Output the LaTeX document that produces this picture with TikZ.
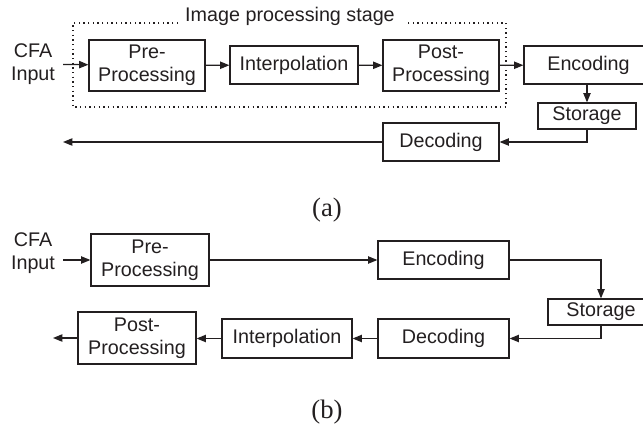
\documentclass[tikz,border=0pt]{standalone}
\usepackage{fontspec}
\setmainfont{Liberation Sans}
\newfontfamily\capfont{Liberation Serif}
\usepackage{tikz}
\usetikzlibrary{arrows.meta,positioning}

\definecolor{ink}{RGB}{35,31,32}

\begin{document}
\begin{tikzpicture}[x=0.75pt,y=0.75pt,yscale=-1,xscale=1,
  every node/.style={font=\fontsize{14.8}{17.5}\selectfont, text=ink},
  blockbox/.style={draw=ink, line width=0.9pt, align=center, inner sep=0pt},
  inlabel/.style={align=center, inner xsep=6pt, inner ysep=0pt},
  flow/.style={draw=ink, line width=0.9pt, -{Triangle[length=7pt,width=5.5pt]}},
  stageframe/.style={draw=ink, line width=0.9pt, dash pattern=on 0.9pt off 2.6pt},
  caption/.style={font=\capfont\fontsize{20}{24}\selectfont}]
\useasboundingbox (0,0) rectangle (643,425);
\clip (0,0) rectangle (643,425);

%Part (a)
%Input label
\node[inlabel] (cfaA) at (33,64) {CFA\\Input};
%Blocks
\node[blockbox, minimum width=87pt, minimum height=38.25pt] (preA) at (147,65.5) {Pre-\\Processing};
\node[blockbox, minimum width=96pt, minimum height=28.5pt] (interpA) at (294,65) {Interpolation};
\node[blockbox, minimum width=87pt, minimum height=38.25pt] (postA) at (441,65.5) {Post-\\Processing};
\node[blockbox, minimum width=96.75pt, minimum height=28.5pt] (encA) at (588.5,65) {Encoding};
\node[blockbox, minimum width=73.5pt, minimum height=19.5pt] (storA) at (587,116) {Storage};
\node[blockbox, minimum width=87pt, minimum height=28.5pt] (decA) at (441,142) {Decoding};
\coordinate (outA) at (63,142);
%Stage frame
\coordinate (frameA) at (178,23);
\coordinate (frameB) at (73,107);
\coordinate (frameC) at (506,23);
\coordinate (frameD) at (407,23);
\draw[stageframe] (frameA) -| (frameB) -| (frameC) -- (frameD);
\node (stage) at (290,16) {Image processing stage};
%Connectors
\draw[flow] (cfaA) -- (preA);
\draw[flow] (preA) -- (interpA);
\draw[flow] (interpA) -- (postA);
\draw[flow] (postA) -- (encA);
\draw[flow] (encA.south -| storA.north) -- (storA.north);
\draw[flow] (storA.south) |- (decA.east);
\draw[flow] (decA) -- (outA);
\node[caption] (capA) at (327,210) {(a)};

%Part (b)
\node[inlabel] (cfaB) at (33,253) {CFA\\Input};
\node[blockbox, minimum width=88.5pt, minimum height=39pt] (preB) at (150,260) {Pre-\\Processing};
\node[blockbox, minimum width=98.25pt, minimum height=28.5pt] (encB) at (443.5,260) {Encoding};
\node[blockbox, minimum width=79.5pt, minimum height=19.5pt] (storB) at (601,312) {Storage};
\node[blockbox, minimum width=98.25pt, minimum height=29.25pt] (decB) at (443.5,338.5) {Decoding};
\node[blockbox, minimum width=97.5pt, minimum height=29.25pt] (interpB) at (287,338.5) {Interpolation};
\node[blockbox, minimum width=88.5pt, minimum height=39pt] (postB) at (137,338) {Post-\\Processing};
\coordinate (outB) at (53,338);
%Connectors
\draw[flow] (cfaB.east |- preB) -- (preB);
\draw[flow] (preB) -- (encB);
\draw[flow] (encB.east) -| (storB.north);
\draw[flow] (storB.south) |- (decB.east);
\draw[flow] (decB) -- (interpB);
\draw[flow] (interpB) -- (postB.east |- interpB);
\draw[flow] (postB) -- (outB);
\node[caption] (capB) at (327,412) {(b)};

\end{tikzpicture}
\end{document}
